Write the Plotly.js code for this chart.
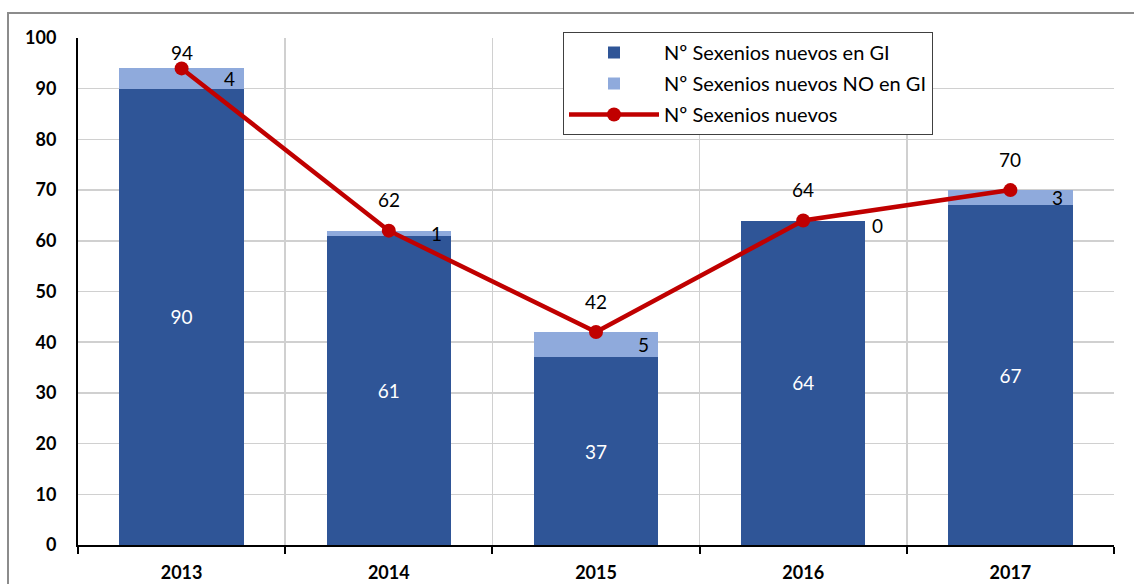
<!DOCTYPE html>
<html><head><meta charset="utf-8">
<script src="https://cdn.plot.ly/plotly-3.0.1.min.js"></script>
<style>html,body{margin:0;padding:0;background:#fff;}#chart{width:1134px;height:584px;}</style>
</head><body><div id="chart"></div>
<script>
const years = ["2013","2014","2015","2016","2017"];
const enGI = [90, 61, 37, 64, 67];
const noEnGI = [4, 1, 5, 0, 3];
const total = [94, 62, 42, 64, 70];
const seriesNames = ["Nº Sexenios nuevos en GI", "Nº Sexenios nuevos NO en GI", "Nº Sexenios nuevos"];

const FONT = "Lato, 'Open Sans', sans-serif";
const L = 78, R = 20, T = 38, B = 39, W = 1134, H = 584;
const plotW = W - L - R, plotH = H - T - B;
const pxPerUnit = plotH / 100;

const traces = [
  {type:'bar', x: years, y: enGI, name: seriesNames[0], legendgroup:'a', marker:{color:'#2F5597'}, width:0.6,
   text: enGI.map(String), textposition:'inside', insidetextanchor:'middle',
   textfont:{color:'#ffffff', size:19, family:FONT}, hoverinfo:'x+y'},
  {type:'bar', x: years, y: noEnGI, name: seriesNames[1], legendgroup:'b', marker:{color:'#8FAADC'}, width:0.6,
   textposition:'none', hoverinfo:'x+y'},
  {type:'scatter', mode:'lines+markers', x: years, y: total, name: seriesNames[2], legendgroup:'c',
   line:{color:'#C00000', width:4.5}, marker:{color:'#C00000', size:14}}
];

const annotations = [];
years.forEach((yr, i) => {
  // labels of the "NO en GI" segment, at the right inside end of the bar
  const has = noEnGI[i] > 0;
  const segMid = has ? enGI[i] + noEnGI[i] / 2 : enGI[i] + noEnGI[i];
  annotations.push({xref:'x', yref:'y', x: i, y: segMid, text: String(noEnGI[i]), showarrow:false,
    xanchor:'right', xshift: has ? 55 : 82, yshift: has ? 0 : -5,
    font:{size:19, color:'#000', family:FONT}});
  // labels of the total line, above the point
  const shift = Math.min(31, (100 - total[i]) * pxPerUnit - 14);
  annotations.push({xref:'x', yref:'y', x: i, y: total[i], text: String(total[i]), showarrow:false,
    yshift: shift, font:{size:19, color:'#000', family:FONT}});
});

const layout = {
  width: W, height: H,
  margin:{l:L, r:R, t:T, b:B, pad:0},
  paper_bgcolor:'#ffffff', plot_bgcolor:'#ffffff',
  barmode:'stack',
  font:{family:FONT, color:'#000'},
  showlegend:true,
  legend:{x:(563 - L)/plotW, y:(H - B - 32)/plotH, xanchor:'left', yanchor:'top',
    bgcolor:'#ffffff', bordercolor:'#404040', borderwidth:1,
    font:{size:20, family:FONT, color:'#000'}, traceorder:'grouped',
    itemwidth:90, tracegroupgap:2},
  xaxis:{type:'category', tickson:'boundaries', ticks:'outside', ticklen:7, tickwidth:2,
    tickcolor:'#000', showline:true, linecolor:'#000', linewidth:2,
    showgrid:true, gridcolor:'#D0D0D0', gridwidth:1.5,
    tickfont:{size:18, family:FONT, color:'#000', weight:'bold'}, ticklabelstandoff:10,
    range:[-0.5, 4.5], fixedrange:true},
  yaxis:{range:[0,100], dtick:10, showline:true, linecolor:'#000', linewidth:2,
    showgrid:true, gridcolor:'#D0D0D0', gridwidth:1.5, zeroline:false, ticks:'',
    tickfont:{size:18, family:FONT, color:'#000', weight:'bold'}, ticklabelstandoff:16,
    fixedrange:true},
  annotations: annotations,
  shapes:[{type:'rect', xref:'paper', yref:'paper', layer:'below',
    x0:(8 - L)/plotW, x1:(W + 20 - L)/plotW, y0:(H - B - (H + 20))/plotH, y1:(H - B - 13)/plotH,
    line:{color:'#8C8C8C', width:2}, fillcolor:'rgba(0,0,0,0)'}]
};

Plotly.newPlot('chart', traces, layout, {displayModeBar:false, staticPlot:true});
</script></body></html>
